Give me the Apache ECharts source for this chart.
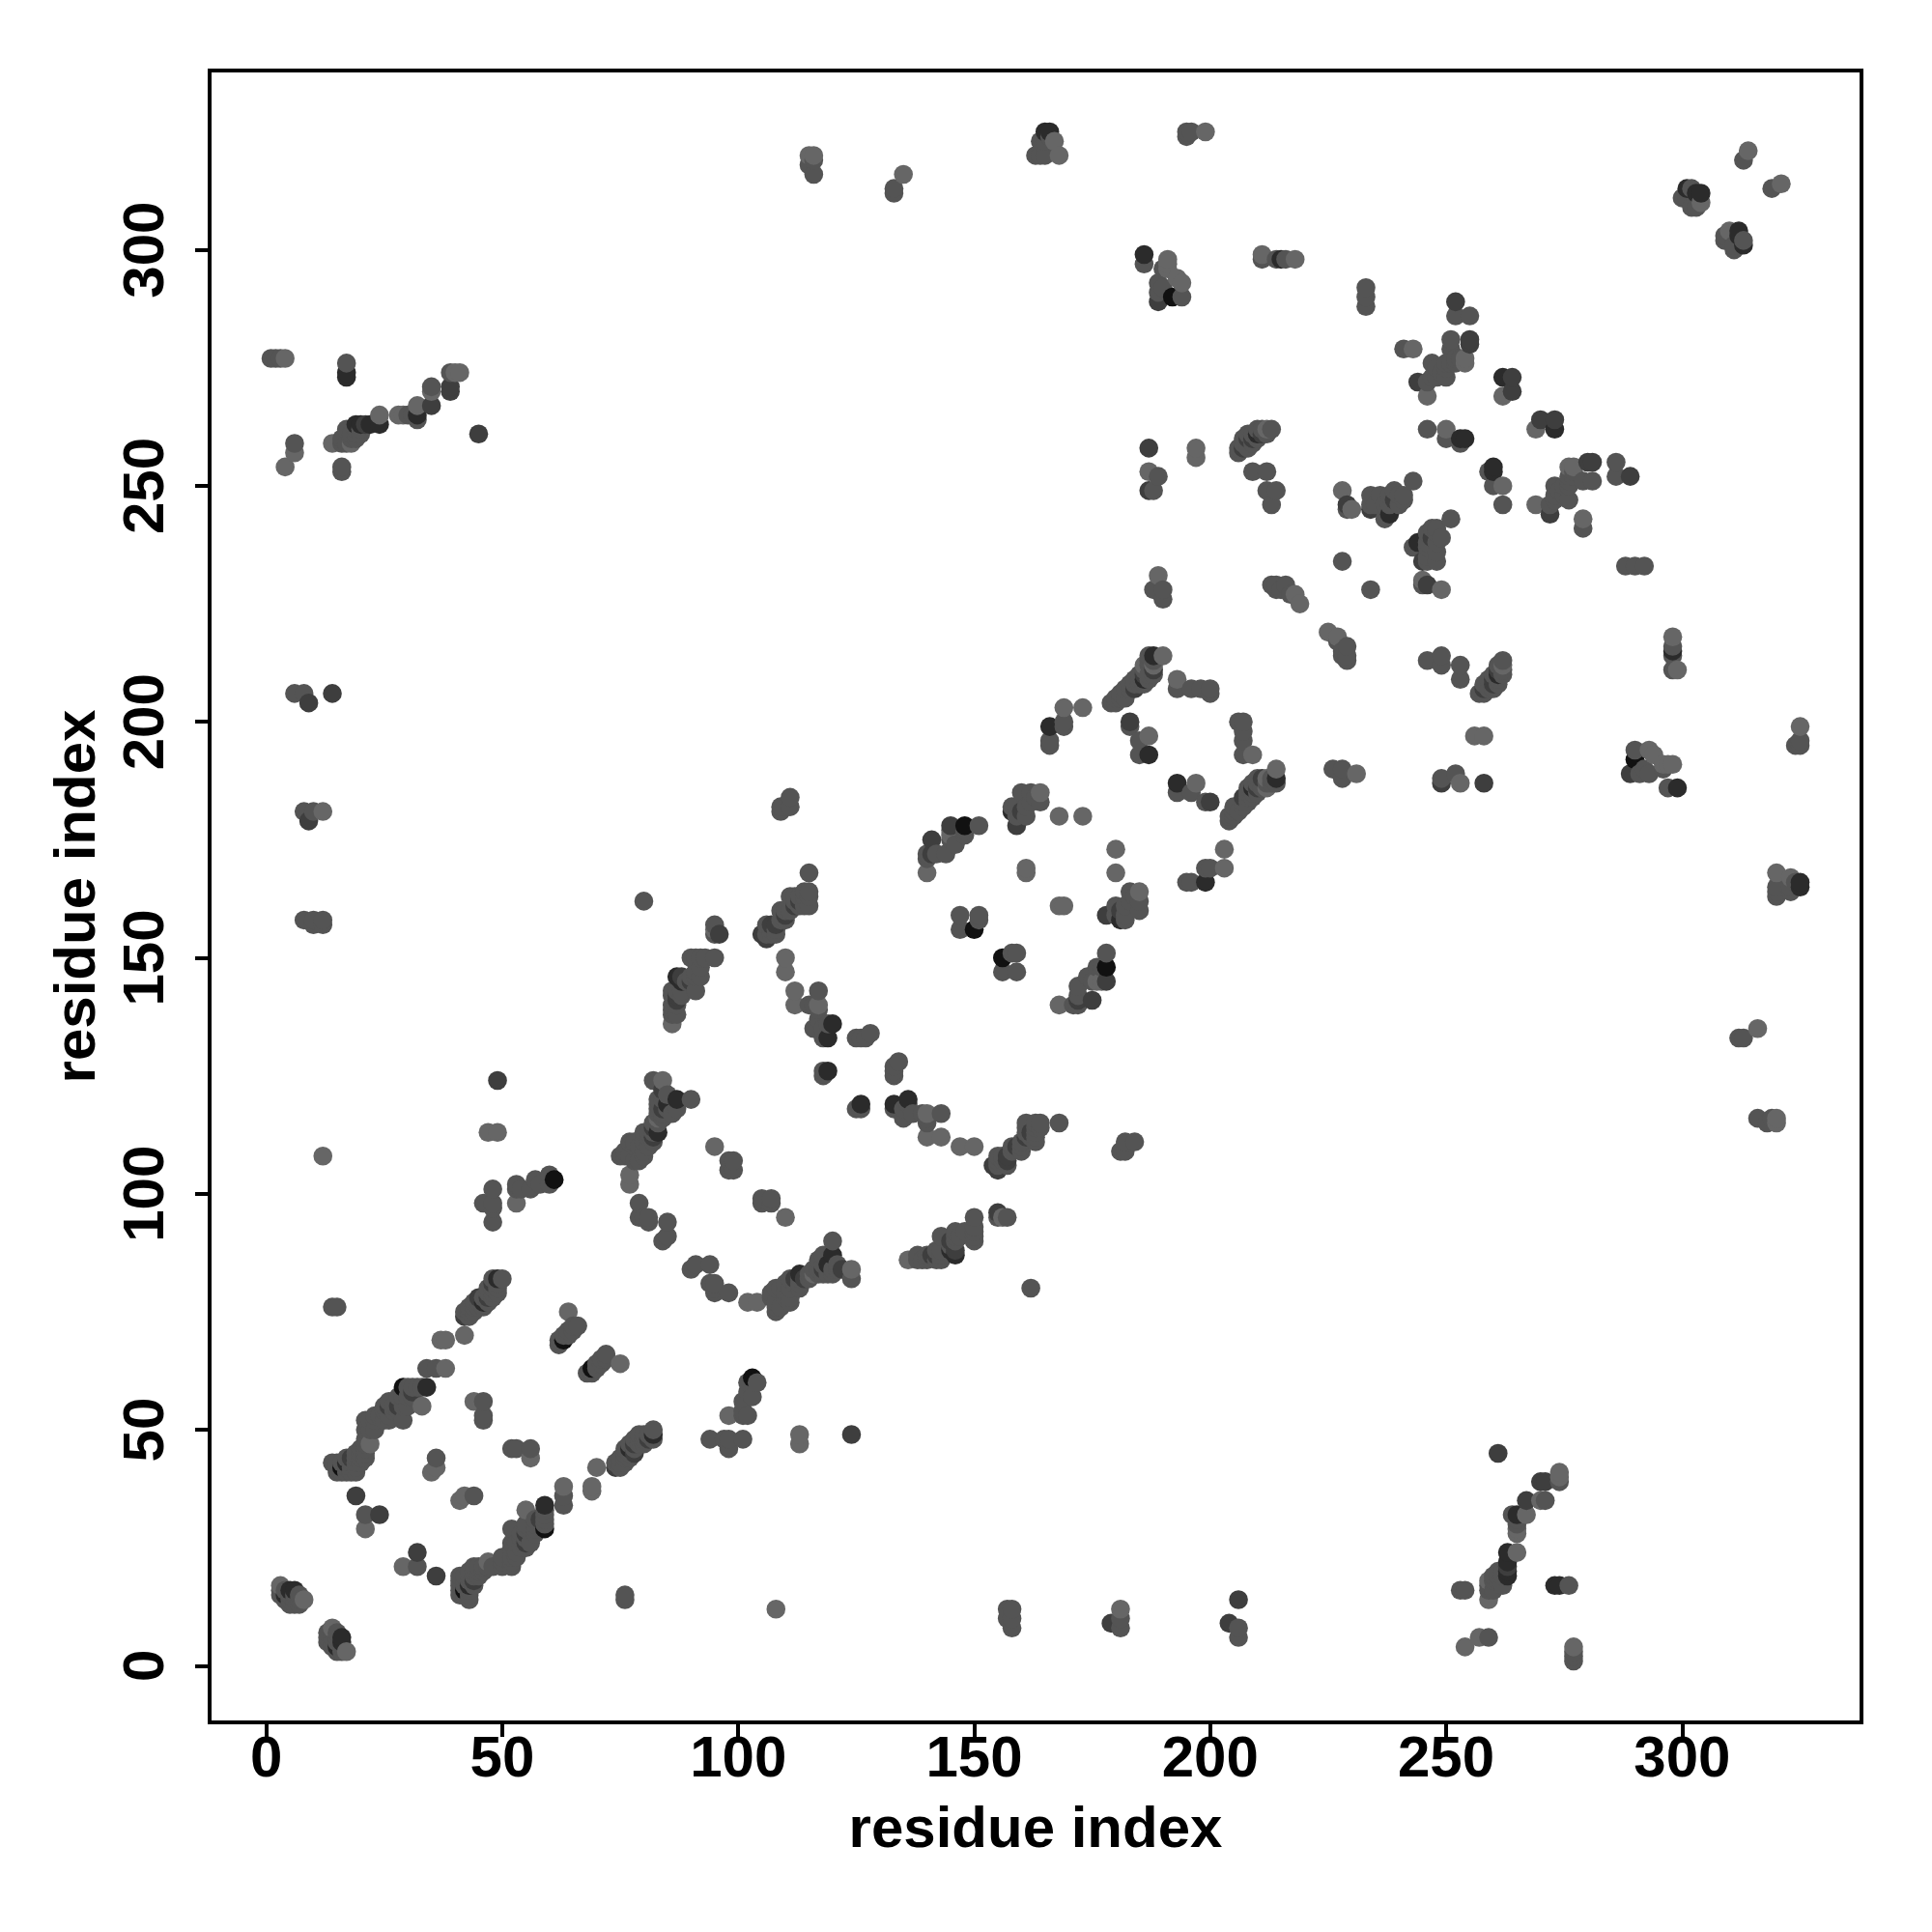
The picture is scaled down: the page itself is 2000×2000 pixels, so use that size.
<!DOCTYPE html>
<html><head><meta charset="utf-8">
<style>html,body{margin:0;padding:0;background:#fff}#c{width:2000px;height:2000px}</style>
<script src="https://cdn.jsdelivr.net/npm/echarts@6/dist/echarts.min.js"></script>
</head><body><div id="c"></div>
<script>
const tickValues = [0, 50, 100, 150, 200, 250, 300];
const axisTitle = 'residue index';
// contacts are read as [i, j]; the map is symmetric, so each is drawn on both sides of the diagonal
const contactsBlack = [[61,103],[148,178],[150,156],[192,290],[29,59],[63,69],[16,42]];
const contactsDarkest = [[49,82],[34,59],[87,120],[119,126],[120,136],[83,113],[17,274],[17,273],[19,263],[22,263],[24,263],[32,265],[188,214],[166,199],[158,181],[262,273],[253,260],[254,260],[238,244],[215,298],[186,299],[304,312],[301,313],[303,312],[165,325],[166,325],[5,16],[6,16],[4,15],[87,146],[119,133],[260,253],[17,43],[187,193],[88,145],[20,263],[85,119],[186,209],[210,261],[46,77]];
const contactsDark = [[45,261],[14,206],[9,204],[49,124],[39,270],[39,271],[35,267],[19,36],[24,32],[183,200],[187,258],[244,272],[264,270],[264,273],[252,289],[141,175],[255,281],[255,280],[9,179],[84,122],[106,154],[159,178],[178,145],[172,141],[181,160],[189,289],[229,246],[234,245],[18,44],[42,74],[48,81],[96,155],[273,17],[299,186],[313,301],[207,258],[249,187],[105,155],[21,263],[107,157],[47,78],[82,114],[112,161],[208,260],[45,78],[108,157],[110,159],[113,162],[84,118],[82,112],[186,210],[184,207],[188,211],[209,260],[211,261],[26,55],[28,55],[31,58],[90,145],[87,141],[239,247],[142,87],[146,88]];
const contactsLight = [[12,108],[47,113],[49,113],[12,181],[77,104],[77,102],[53,98],[95,110],[110,147],[110,150],[112,140],[112,143],[95,150],[95,155],[95,156],[4,277],[4,254],[14,259],[18,259],[24,265],[28,265],[29,265],[32,267],[41,274],[40,274],[35,270],[35,41],[36,42],[21,29],[33,55],[38,63],[37,69],[38,69],[42,70],[64,75],[22,47],[115,161],[161,168],[161,169],[117,140],[140,168],[173,203],[169,203],[187,197],[190,214],[193,209],[194,293],[191,296],[191,298],[199,325],[167,323],[168,320],[135,316],[218,298],[211,299],[228,249],[230,245],[243,279],[246,269],[250,262],[262,269],[164,185],[197,256],[197,258],[187,253],[189,231],[219,225],[218,227],[191,297],[193,294],[314,321],[304,310],[145,177],[8,14],[3,17],[44,56],[116,320],[115,320],[86,136],[84,124],[136,86],[143,112],[6,257],[44,36],[143,117],[254,277],[254,276],[145,176],[168,180],[169,161],[173,180],[207,193],[83,116],[86,138],[212,262],[188,212],[186,212]];
const contactsMid = [
[3,15],[3,16],[4,14],[4,16],[5,13],[5,14],[5,15],[6,13],[6,14],[6,15],[7,13],[7,14],[7,15],
[14,43],[15,41],[15,42],[15,43],[16,41],[16,43],[17,41],[17,42],[17,44],[18,41],[18,42],[18,43],[19,41],[19,42],[19,43],[19,44],[19,45],[20,43],[20,44],[20,45],[20,46],[21,44],[21,45],[21,46],[21,47],[21,48],[21,50],[21,52],[22,50],[22,52],[23,50],[23,52],[23,53],[24,53],[25,52],[25,54],[25,55],[26,52],[26,53],[26,56],[27,54],[27,55],[28,54],[28,57],[29,52],[29,55],[29,57],[30,55],[30,57],[30,59],[31,57],[31,59],[32,59],[33,59],[34,63],[36,63],
[42,75],[43,74],[43,75],[43,76],[44,75],[44,76],[44,77],[45,76],[45,77],[46,76],[46,78],[47,77],[47,79],[47,80],[48,78],[48,79],[48,80],[48,82],[49,79],[49,80],[49,81],[50,82],
[62,68],[62,69],[63,70],[64,70],[64,71],[65,71],[65,72],[66,72],
[46,56],[46,53],[46,52],[36,44],[21,32],[14,76],[15,76],
[8,181],[10,181],[8,158],[10,158],[10,157],[12,158],[12,157],
[48,101],[46,98],[48,98],[48,97],[48,94],[53,102],[53,101],[54,101],[56,101],[57,103],[58,102],[60,104],[60,102],[80,162],
[98,107],[99,107],[99,105],[98,105],
[82,124],[86,117],[83,117],[83,115],[83,118],[84,120],[87,118],[90,120],[80,113],[81,113],[82,113],[78,111],[77,111],[80,111],[81,110],[78,110],[79,110],[75,108],[76,108],[77,108],[76,109],[78,107],[79,107],
[80,108],[80,109],[81,112],[82,111],[82,115],[84,116],[84,117],[83,119],[85,118],[85,121],[84,121],[83,120],
[79,98],[80,95],[79,95],[81,95],[81,94],[85,94],[84,90],[85,91],
[106,155],[106,157],[107,155],[107,156],[108,155],[108,156],[109,158],[109,160],[110,158],[110,160],[111,160],[111,163],[112,162],[112,163],[113,161],[113,163],[114,161],[114,163],[114,164],[115,163],[115,164],[115,168],
[109,181],[109,182],[111,182],[111,184],
[91,150],[92,148],[92,146],[91,143],[86,142],[88,142],[87,138],[86,139],[87,142],[87,140],[87,143],[88,143],[89,145],[90,146],[91,147],[92,150],[93,150],
[143,91],[146,91],[138,86],[140,86],[143,86],[150,91],[150,90],[150,95],[155,95],[157,95],[162,80],
[115,140],[116,140],[117,139],[117,143],[116,135],[117,137],[118,133],[118,135],[119,136],[118,125],[118,126],[125,133],[126,133],[127,133],[128,134],
[161,115],[164,115],[168,115],
[140,172],[142,172],[144,172],[140,171],[145,175],[148,176],[148,177],[151,178],[146,174],
[158,182],[159,180],[160,181],[161,180],[161,182],[162,183],[162,185],[160,185],[159,182],[164,183],[163,184],
[147,159],[147,156],[151,159],[151,158],
[166,195],[166,196],[169,200],[169,199],
[179,204],[180,204],[180,205],[181,205],[181,206],[182,205],[182,207],[183,207],[183,208],[184,208],[184,209],[185,208],[185,209],[185,210],[186,208],[186,211],[187,209],[187,210],[187,212],[187,213],[187,214],[188,210],[188,213],
[193,207],[196,207],[198,207],[200,207],[200,206],[185,196],[185,193],[183,199],
[190,226],[190,228],[188,228],
[188,249],[189,252],
[186,297],[190,296],[189,293],[189,291],[194,290],[190,292],
[211,298],[214,298],[216,298],
[206,257],[206,258],[207,259],[207,260],[208,258],[208,261],[209,259],[209,261],[210,260],[210,262],[211,262],[212,261],[213,262],[209,253],[212,253],[212,249],[214,249],[213,246],
[213,229],[214,228],[214,229],[215,228],[216,229],[217,227],
[229,245],[233,288],[233,290],[233,292],[228,234],[241,279],
[234,246],[234,248],[235,246],[236,248],[237,243],[237,246],[238,246],[238,248],[239,249],[240,246],[240,248],[241,247],[241,248],[243,251],
[244,272],[246,272],[247,273],[248,273],[248,275],[249,274],[250,273],[247,276],[250,275],[250,276],[251,276],[252,276],[252,277],[253,277],[251,279],[251,281],[252,286],[255,286],
[246,262],[250,260],[253,259],
[16,253],[16,254],[17,259],[17,262],[17,276],[16,259],[18,260],[18,261],[19,260],[19,261],[19,262],[20,261],[20,262],[16,260],[32,264],[31,265],[30,265],[35,271],[39,274],[1,277],[2,277],[3,277],[6,259],[6,206],[8,206],
[115,318],[116,319],[116,316],[133,313],[133,312],[163,320],[164,320],[165,320],[164,323],[165,323],[166,324],[195,325],[195,324],[196,325],
[300,311],[301,311],[302,309],[303,309],[302,313],[313,319]
];

const tiers = [
  [contactsBlack, '#111111'], [contactsDarkest, '#2b2b2b'], [contactsDark, '#3e3e3e'],
  [contactsMid, '#545454'], [contactsLight, '#666666']
];
const shade = new Map();
tiers.forEach(([list, col]) => list.forEach(([a, b]) => {
  const i = Math.min(a, b), j = Math.max(a, b), k = i + ',' + j;
  if (!shade.has(k)) shade.set(k, col);
}));
const points = [];
shade.forEach((col, k) => {
  const [i, j] = k.split(',').map(Number);
  points.push({ value: [i, j], itemStyle: { color: col } });
  points.push({ value: [j, i], itemStyle: { color: col } });
});
points.sort((p, q) => p.value[0] - q.value[0] || p.value[1] - q.value[1]);

const font = 'Liberation Sans';
const baseAxis = {
  type: 'value', min: -12, max: 338, name: axisTitle, nameLocation: 'middle',
  nameTextStyle: { fontFamily: font, fontWeight: 'bold', fontSize: 60, color: '#000' },
  axisLine: { show: true, onZero: false, lineStyle: { color: '#000', width: 4 } },
  axisTick: { show: true, length: 15, lineStyle: { color: '#000', width: 4 }, customValues: tickValues },
  axisLabel: { fontFamily: font, fontWeight: 'bold', fontSize: 60, color: '#000', customValues: tickValues, showMinLabel: true, showMaxLabel: true },
  splitLine: { show: false }
};
const chart = echarts.init(document.getElementById('c'), null, { width: 2000, height: 2000, renderer: 'canvas' });
chart.setOption({
  animation: false,
  backgroundColor: '#fff',
  grid: { left: 217, right: 73, top: 73, bottom: 217, show: true, borderColor: '#000', borderWidth: 4, backgroundColor: 'transparent' },
  xAxis: Object.assign({}, baseAxis, { nameGap: 82, axisLabel: Object.assign({}, baseAxis.axisLabel, { margin: 9 }) }),
  yAxis: Object.assign({}, baseAxis, { nameGap: 106, axisLabel: Object.assign({}, baseAxis.axisLabel, { rotate: 90, margin: 35 }) }),
  series: [{ type: 'scatter', symbol: 'circle', symbolSize: 19.6, data: points, silent: true, large: false, progressive: 0, itemStyle: { opacity: 1 } }]
});
</script></body></html>
